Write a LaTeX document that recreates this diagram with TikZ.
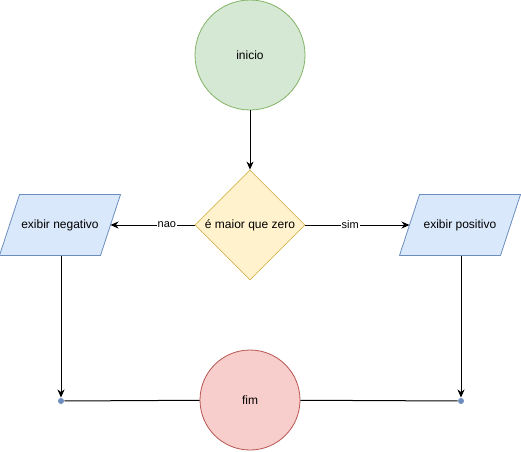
\documentclass[tikz,border=0pt]{standalone}
\usepackage{fontspec}
\setmainfont{Liberation Sans}
\usetikzlibrary{positioning,arrows,arrows.meta,shapes.geometric,backgrounds}

\definecolor{verdefill}{HTML}{D5E8D4}
\definecolor{verdeline}{HTML}{82B366}
\definecolor{amarfill}{HTML}{FFF2CC}
\definecolor{amarline}{HTML}{D6B656}
\definecolor{azulfill}{HTML}{DAE8FC}
\definecolor{azulline}{HTML}{6C8EBF}
\definecolor{vermfill}{HTML}{F8CECC}
\definecolor{vermline}{HTML}{B85450}

\tikzset{
  txt/.style={font=\fontsize{12}{14}\selectfont},
  saida/.style={rectangle, minimum width=100pt, minimum height=60pt, inner sep=0pt, txt},
  paralelo/.style={draw=azulline, fill=azulfill, line width=0.8pt},
  ponto/.style={circle, fill=azulline, inner sep=0pt, minimum size=6pt},
  rotulo/.style={fill=white, inner sep=1pt, font=\fontsize{11}{13}\selectfont}
}

\begin{document}
\begin{tikzpicture}[x=1pt,y=-1pt,>={Stealth[length=8pt,width=7pt,inset=2.5pt]},line width=1pt]
\useasboundingbox (0,0) rectangle (521,451);
\path
(250,55)  node[circle,draw=verdeline,fill=verdefill,line width=0.8pt,minimum size=110pt,txt]  (ini) {inicio}
+(0,170)  node[diamond,draw=amarline,fill=amarfill,line width=0.8pt,minimum size=110pt,inner sep=0pt,txt]  (teste) {é maior que zero}
+(-190,170) node[saida]  (neg) {exibir negativo}
+(210,170) node[saida]  (pos) {exibir positivo}
+(0,345) node[circle,draw=vermline,fill=vermfill,line width=0.8pt,minimum size=100pt,txt] (fim) {fim}
+(-189,346) node[ponto] (pe) {}
+(211,346) node[ponto] (pd) {};

% paralelogramos atras do texto
\begin{scope}[on background layer]
\foreach \n in {neg,pos}
  \draw[paralelo] ([xshift=-10pt]\n.south west) -- ([xshift=-10pt]\n.south east)
    -- ([xshift=10pt]\n.north east) -- ([xshift=10pt]\n.north west) -- cycle;
\end{scope}

% ligacoes
\draw[->] (ini)--(teste);
\draw[->] (teste)--(neg) node[pos=.33,rotulo]{nao};
\draw[->] (teste)--(pos) node[pos=.43,rotulo]{sim};
\draw[->] (neg.south -| pe)--(pe);
\draw[->] (pos.south -| pd)--(pd);
\draw (pe)--(fim);
\draw (fim)--(pd);
\end{tikzpicture}
\end{document}
